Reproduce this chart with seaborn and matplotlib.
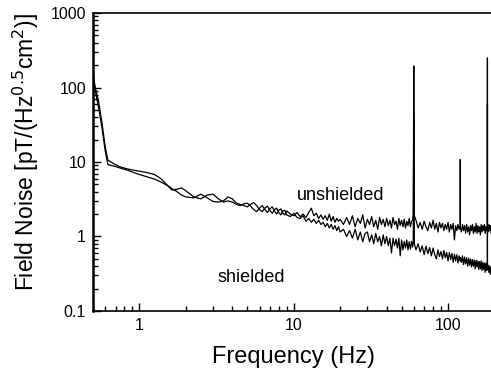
import matplotlib
matplotlib.use("Agg")
import matplotlib.pyplot as plt
import seaborn as sns
import pandas as pd

# Frequency grid (Hz)
freq = [
    0.5, 0.52, 0.54, 0.57, 0.6, 0.625, 0.6875, 0.75, 0.8125, 0.875,
    0.9375, 1.0, 1.125, 1.25, 1.375, 1.5, 1.625, 1.75, 1.875, 2.0,
    2.25, 2.5, 2.75, 3.0, 3.25, 3.5, 3.75, 4.0, 4.25, 4.5,
    4.75, 5.0,
    5.25, 5.5, 5.75, 6.0, 6.25, 6.5, 6.75, 7.0, 7.25, 7.5,
    7.75, 8.0, 8.25, 8.5, 8.75, 9.0,
    9.5, 10, 10.5, 11, 11.5, 12, 12.5, 13, 13.5, 14,
    14.5, 15, 15.5, 16, 16.5, 17, 17.5, 18, 18.5, 19,
    19.5, 20,
    21, 22, 23, 24, 25, 26, 27, 28, 29, 30,
    31, 32, 33, 34, 35, 36, 37, 38, 39, 40,
    41, 42, 43, 44, 45, 46, 47, 48, 49, 50,
    51, 52, 53, 54, 55, 56, 57, 58, 59,
    59.5, 60, 60.5,
    62, 64, 66, 68, 70, 72, 74, 76, 78, 80,
    82, 84, 86, 88, 90, 92, 94, 96, 98, 100,
    102, 104, 106, 108, 110, 112, 114, 116, 118,
    119.8, 120, 120.2,
    122, 124, 126, 128, 130, 132, 134, 136, 138, 140,
    142, 144, 146, 148, 150, 152, 154, 156, 158, 160,
    162, 164, 166, 168, 170, 172, 174, 176, 178,
    179.8, 180, 180.2,
    182, 184, 186, 188, 190, 192, 194, 196, 198, 200,
]

# Field noise, pT/(Hz^0.5 cm^2)
unshielded = [
    150, 95, 70, 35, 16, 10.6, 9.4, 8.6, 8.2, 7.9,
    7.7, 7.5, 7.2, 6.8, 6.0, 5.0, 4.2, 4.3, 4.5, 4.1,
    3.4, 3.2, 3.6, 3.7, 3.2, 2.9, 3.0, 2.9, 2.7, 2.6,
    2.75, 2.8,
    2.55, 2.3, 2.15, 2.4, 2.6, 2.3, 2.1, 2.35, 2.5, 2.2,
    2.0, 2.25, 2.35, 2.05, 1.95, 2.2,
    2.0, 1.9, 2.1, 1.85, 2.0, 1.8, 2.1, 2.4, 1.9, 2.05,
    1.75, 1.95, 1.7, 1.9, 1.65, 2.0, 1.6, 1.85, 1.55, 1.75,
    1.6, 1.7,
    1.45, 1.8, 1.45, 1.9, 1.35, 1.75, 1.5, 1.95, 1.3, 1.7,
    1.45, 1.85, 1.35, 1.65, 1.25, 1.8, 1.45, 1.7, 1.35, 1.75,
    1.4, 1.65, 1.3, 1.8, 1.45, 1.6, 1.25, 1.75, 1.4, 1.65,
    1.35, 1.7, 1.3, 1.6, 1.4, 1.75, 1.35, 1.6, 1.65,
    2.0, 195, 1.9,
    1.65, 1.3, 1.55, 1.25, 1.6, 1.35, 1.2, 1.55, 1.3, 1.65,
    1.25, 1.5, 1.15, 1.55, 1.3, 1.5, 1.2, 1.45, 1.25, 1.55,
    1.15, 1.45, 1.25, 1.5, 0.9, 1.4, 1.2, 1.45, 1.25,
    1.35, 10.8, 1.3,
    1.15, 1.45, 1.2, 1.4, 1.1, 1.45, 1.15, 1.35, 1.05, 1.4,
    1.2, 1.45, 1.1, 1.35, 1.15, 1.5, 1.1, 1.4, 1.15, 1.35,
    1.05, 1.45, 1.15, 1.4, 1.2, 1.45, 1.1, 1.35, 1.2,
    1.3, 250, 1.3,
    1.15, 1.45, 1.2, 1.4, 1.1, 1.35, 1.2, 1.45, 1.15, 1.3,
]

shielded = [
    140, 85, 58, 30, 14, 9.2, 8.8, 8.3, 7.9, 7.5,
    7.1, 6.8, 6.3, 5.9, 5.4, 4.9, 4.4, 4.0, 3.6, 3.4,
    3.3, 3.7, 3.3, 2.95, 2.9, 3.0, 3.4, 3.2, 2.8, 2.7,
    2.6, 2.5,
    2.7, 2.85, 2.6, 2.3, 2.15, 2.4, 2.55, 2.25, 2.05, 2.3,
    2.4, 2.1, 1.95, 2.2, 2.25, 1.95,
    1.85, 2.05, 1.8, 1.75, 1.9, 1.6, 1.75, 1.55, 1.7, 1.5,
    1.65, 1.45, 1.55, 1.35, 1.5, 1.3, 1.45, 1.25, 1.4, 1.2,
    1.35, 1.15,
    1.25, 1.0, 1.2, 0.95, 1.25, 0.9, 1.15, 0.85, 1.1, 1.15,
    0.85, 1.05, 0.8, 1.1, 0.85, 1.0, 0.75, 1.05, 0.8, 1.0,
    0.75, 0.95, 0.6, 0.95, 0.75, 0.92, 0.7, 0.95, 0.55, 0.9,
    0.66, 0.86, 0.7, 0.9, 0.66, 0.85, 0.68, 0.86, 0.72,
    0.85, 40, 0.8,
    0.66, 0.8, 0.62, 0.75, 0.57, 0.74, 0.59, 0.71, 0.55, 0.7,
    0.57, 0.5, 0.66, 0.54, 0.63, 0.5, 0.65, 0.52, 0.61, 0.47,
    0.61, 0.49, 0.59, 0.45, 0.58, 0.47, 0.57, 0.44, 0.55,
    0.5, 0.47, 0.52,
    0.45, 0.55, 0.42, 0.53, 0.43, 0.52, 0.4, 0.51, 0.41, 0.5,
    0.39, 0.49, 0.4, 0.48, 0.37, 0.48, 0.39, 0.47, 0.36, 0.46,
    0.37, 0.47, 0.35, 0.45, 0.36, 0.44, 0.33, 0.44, 0.35,
    0.37, 60, 0.36,
    0.41, 0.33, 0.4, 0.31, 0.39, 0.33, 0.4, 0.3, 0.38, 0.32,
]

assert len(freq) == len(unshielded) == len(shielded)

df = pd.DataFrame({"freq": freq, "unshielded": unshielded, "shielded": shielded})

sns.set_style("ticks")
plt.rcParams["font.family"] = ["Liberation Sans", "DejaVu Sans"]
plt.rcParams["text.color"] = "black"
plt.rcParams["axes.labelcolor"] = "black"
plt.rcParams["xtick.color"] = "black"
plt.rcParams["ytick.color"] = "black"

fig = plt.figure(figsize=(4.91, 3.72), dpi=100)
ax = fig.add_axes([0.1894, 0.164, 0.8177, 0.801])

sns.lineplot(x="freq", y="unshielded", data=df, ax=ax, color="black",
             lw=0.9, estimator=None, sort=False)
sns.lineplot(x="freq", y="shielded", data=df, ax=ax, color="black",
             lw=0.9, estimator=None, sort=False)

ax.set_xscale("log")
ax.set_yscale("log")
ax.set_xlim(0.5, 200)
ax.set_ylim(0.1, 1000)

ax.set_xticks([1, 10, 100])
ax.set_xticklabels(["1", "10", "100"])
ax.set_yticks([0.1, 1, 10, 100, 1000])
ax.set_yticklabels(["0.1", "1", "10", "100", "1000"])

ax.tick_params(which="both", direction="in", color="black", width=1)
ax.tick_params(which="major", length=6, labelsize=11.5, pad=5)
ax.tick_params(which="minor", length=3.5)
for s in ax.spines.values():
    s.set_color("black")
    s.set_linewidth(1.2)
ax.spines["left"].set_linewidth(1.8)

ax.text(10.5, 3.55, "unshielded", fontsize=13, ha="left", va="center")
ax.text(3.2, 0.28, "shielded", fontsize=13, ha="left", va="center")

ax.set_xlabel("Frequency (Hz)", fontsize=17)
ax.set_ylabel(r"Field Noise [pT/(Hz$^{0.5}$cm$^{2}$)]", fontsize=16.5)
ax.xaxis.set_label_coords(0.50, -0.117)
ax.yaxis.set_label_coords(-0.13, 0.532)

fig.savefig("out.png", dpi=100)
